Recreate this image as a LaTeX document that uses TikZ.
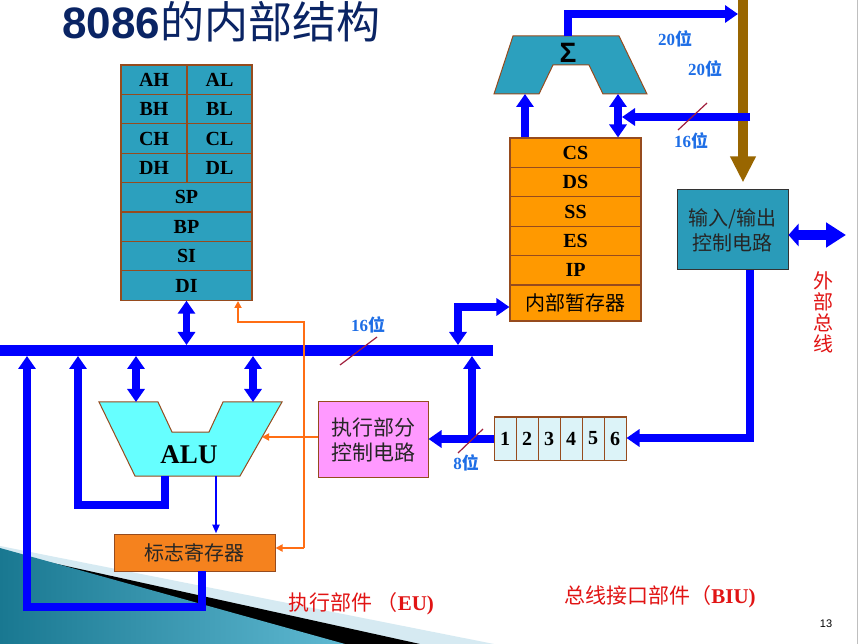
\documentclass[tikz,border=0pt]{standalone}
\usepackage{fontspec}
\setmainfont{Liberation Serif}
\newfontfamily\cjk{Noto Sans CJK SC}
\newfontfamily\arialf{Liberation Sans}
\usetikzlibrary{arrows.meta,calc}
\definecolor{regteal}{RGB}{44,160,190}
\definecolor{iofill}{RGB}{42,155,185}
\definecolor{brd}{RGB}{150,75,30}
\definecolor{segor}{RGB}{255,153,0}
\definecolor{flagor}{RGB}{245,130,30}
\definecolor{alucyan}{RGB}{102,255,255}
\definecolor{pinkbox}{RGB}{255,153,255}
\definecolor{qfill}{RGB}{220,243,248}
\definecolor{busblue}{RGB}{0,0,255}
\definecolor{lblblue}{RGB}{30,110,230}
\definecolor{brownbar}{RGB}{153,102,0}
\definecolor{orline}{RGB}{255,110,20}
\definecolor{slashred}{RGB}{160,30,60}
\definecolor{navy}{RGB}{10,36,100}
\definecolor{redtxt}{RGB}{225,20,20}
\definecolor{decteala}{RGB}{25,120,145}
\definecolor{dectealb}{RGB}{95,185,210}
\definecolor{declight}{RGB}{214,234,242}
\tikzset{
  bigtip/.tip={Triangle[length=13pt,width=17pt]},
  smtip/.tip={Triangle[length=7pt,width=7pt]},
}
\begin{document}
\begin{tikzpicture}[x=1pt,y=-1pt,
  reg/.style={draw=brd,line width=1.1pt,fill=regteal,minimum height=29.4pt,inner sep=0pt,font=\fontsize{20}{20}\selectfont\bfseries},
  seg/.style={reg,fill=segor},
  qcell/.style={draw=brd,line width=1pt,fill=qfill,minimum width=22pt,minimum height=43pt,inner sep=0pt,font=\fontsize{20}{20}\selectfont\bfseries},
  cjkbox/.style={draw=brd,line width=1pt,inner sep=0pt,align=center,text=black!85,font=\cjk\fontsize{20}{25}\selectfont},
  bus/.style={draw=busblue,line width=7.5pt},
  thinline/.style={draw=busblue,line width=2.2pt},
  ctl/.style={draw=orline,line width=2pt},
  slash/.style={draw=slashred,line width=1.2pt},
  bitlbl/.style={text=lblblue,inner sep=0pt,font=\fontsize{17}{17}\selectfont\bfseries},
  redlbl/.style={text=redtxt,inner sep=0pt},
]
\useasboundingbox (0,0) rectangle (868,644);
\fill[white] (0,0) rectangle (868,644);

% decoration
\fill[declight] (0,546) -- (494,644) -- (0,644) -- cycle;
\fill[black] (30,558) -- (420,644) -- (0,644) -- (0,560) -- cycle;
\shade[left color=decteala,right color=dectealb] (0,548) -- (345,644) -- (0,644) -- cycle;
\draw[gray!50,line width=0.8pt] (857,0) -- (857,644);

% title
\node[anchor=base west,inner sep=0pt,text=navy] (title) at (62,39) {\arialf\bfseries\fontsize{44}{44}\selectfont 8086{\cjk\mdseries 的内部结构}};

% general registers
\node[reg,minimum width=66pt] (ah) at (154,79.7) {AH};
\node[reg,minimum width=65pt] (al) at (219.5,79.7) {AL};
\node[reg,minimum width=66pt] (bh) at (154,109.1) {BH};
\node[reg,minimum width=65pt] (bl) at (219.5,109.1) {BL};
\node[reg,minimum width=66pt] (ch) at (154,138.5) {CH};
\node[reg,minimum width=65pt] (cl) at (219.5,138.5) {CL};
\node[reg,minimum width=66pt] (dh) at (154,167.9) {DH};
\node[reg,minimum width=65pt] (dl) at (219.5,167.9) {DL};
\node[reg,minimum width=131pt] (sp) at (186.5,197.3) {SP};
\node[reg,minimum width=131pt] (bp) at (186.5,226.7) {BP};
\node[reg,minimum width=131pt] (si) at (186.5,256.1) {SI};
\node[reg,minimum width=131pt] (di) at (186.5,285.5) {DI};

% segment registers
\node[seg,minimum width=131pt] (cs) at (575.5,152.7) {CS};
\node[seg,minimum width=131pt] (ds) at (575.5,182.1) {DS};
\node[seg,minimum width=131pt] (ss) at (575.5,211.5) {SS};
\node[seg,minimum width=131pt] (es) at (575.5,240.9) {ES};
\node[seg,minimum width=131pt] (ip) at (575.5,270.3) {IP};
\node[seg,minimum width=131pt,minimum height=36pt,font=\cjk\fontsize{20}{20}\selectfont] (tmp) at (575.5,303) {内部暂存器};

% adder
\filldraw[fill=regteal,draw=brd,line width=1pt] (513,36) -- (619,36) -- (647,94) -- (603,94) -- (589,65) -- (553,65) -- (539,94) -- (494,94) -- cycle;
\node[inner sep=0pt,font=\arialf\bfseries\fontsize{28}{28}\selectfont] (sigma) at (568,53) {Σ};
\coordinate (addTop) at (568,36);
\coordinate (addInL) at (525,94);
\coordinate (addInR) at (618,94);

% external address bus bar
\coordinate (barTop) at (743,0);
\node[cjkbox,draw=black!80,fill=iofill,minimum width=111pt,minimum height=80pt] (io) at (732.5,230) {输入/输出\\控制电路};
\draw[brownbar,line width=10pt,-{Triangle[length=26pt,width=24pt]}] (barTop) -- ($(barTop |- io.north)+(0,-7)$);

\draw[bus,-{bigtip}] (addTop) -- (568,14) -- (738,14);
\draw[bus,-{bigtip}] (cs.north -| addInL) -- (addInL);
\draw[bus,{bigtip}-{bigtip}] (cs.north -| addInR) -- (addInR);
\coordinate (seg16) at (750,117);
\draw[bus,-{bigtip}] (seg16) -- (622,117);

% external bus
\coordinate (extbus) at (846,235);
\draw[draw=busblue,line width=10pt,{Triangle[length=10pt,width=22pt]}-{Triangle[length=20pt,width=24pt]}] (io.east |- extbus) -- (extbus);
\node[redlbl,font=\cjk\fontsize{20}{21}\selectfont,align=center] (ext) at (823,312) {外\\部\\总\\线};

% queue
\node[qcell] (q1) at (505,438.5) {1};
\node[qcell] (q2) at (527,438.5) {2};
\node[qcell] (q3) at (549,438.5) {3};
\node[qcell] (q4) at (571,438.5) {4};
\node[qcell] (q5) at (593,438.5) {5};
\node[qcell] (q6) at (615,438.5) {6};
\coordinate (qbend) at (750,438);
\draw[bus,line width=8.5pt,-{bigtip}] (io.south -| qbend) -- (qbend) -- (q6.east |- qbend);

% EU control box
\node[cjkbox,fill=pinkbox,minimum width=110pt,minimum height=75pt,font=\cjk\fontsize{21}{25}\selectfont] (exec) at (373,439.5) {执行部分\\控制电路};

% internal bus
\coordinate (busL) at (0,350.5);
\coordinate (busR) at (493,350.5);
\coordinate (busTop) at (0,345);
\coordinate (busBot) at (0,356);
\draw[draw=busblue,line width=11pt] (busL) -- (busR);

\coordinate (qj) at (472,439);
\draw[bus,-{bigtip}] (q1.west |- qj) -- (exec.east |- qj);
\draw[bus,-{bigtip}] (qj) -- (qj |- busBot);

\coordinate (tmpc) at (458,307);
\draw[bus,{bigtip}-{bigtip}] (tmpc |- busTop) -- (tmpc) -- (tmp.west |- tmpc);

\draw[bus,{bigtip}-{bigtip}] (di.south) -- (di.south |- busTop);

% ALU
\filldraw[fill=alucyan,draw=brd,line width=1pt] (99,402) -- (158,402) -- (172,432) -- (209,432) -- (223,402) -- (282,402) -- (240,476) -- (135,476) -- cycle;
\node[inner sep=0pt,font=\fontsize{27}{27}\selectfont\bfseries] (alu) at (189,455) {ALU};
\coordinate (aluInL) at (136,402);
\coordinate (aluInR) at (253,402);
\coordinate (aluOutA) at (165,476);
\coordinate (aluOutB) at (216,476);
\draw[bus,{bigtip}-{bigtip}] (aluInL |- busBot) -- (aluInL);
\draw[bus,{bigtip}-{bigtip}] (aluInR |- busBot) -- (aluInR);

% flags
\node[cjkbox,fill=flagor,minimum width=161pt,minimum height=37pt] (flags) at (194.5,552.5) {标志寄存器};
\coordinate (flOut) at (202,571);

\draw[bus,-{bigtip}] (aluOutA) -- (165,505) -- (78,505) -- (78,356);
\draw[bus,-{bigtip}] (flOut) -- (202,607) -- (27,607) -- (27,356);
\draw[thinline,-{Triangle[length=9pt,width=7pt]}] (aluOutB) -- (aluOutB |- flags.north);

% control lines
\coordinate (oTop) at (304,322);
\coordinate (oMid) at (304,437);
\coordinate (oBot) at (304,548);
\coordinate (diIn) at (238,301);
\draw[ctl,-{smtip}] (exec.west |- oMid) -- (262,437);
\draw[ctl,-{smtip}] (oBot) -- (flags.east |- oBot);
\draw[ctl,-{smtip}] (oBot) -- (oTop) -- (diIn |- oTop) -- (diIn);

% width labels
\node[bitlbl] (l20a) at (675,39) {20{\cjk 位}};
\node[bitlbl] (l20b) at (705,69) {20{\cjk 位}};
\node[bitlbl] (l16a) at (691,141) {16{\cjk 位}};
\node[bitlbl] (l16b) at (368,325) {16{\cjk 位}};
\node[bitlbl] (l8) at (466,463) {8{\cjk 位}};
\draw[slash] (678,130) -- (707,103);
\draw[slash] (340,365) -- (377,337);
\draw[slash] (458,453) -- (483,429);

% bottom labels
\node[redlbl,font=\fontsize{21}{21}\selectfont] (eu) at (361,604) {{\cjk 执行部件\ （}\textbf{EU)}};
\node[redlbl,font=\fontsize{21}{21}\selectfont] (biu) at (660,597) {{\cjk 总线接口部件（}\textbf{BIU)}};
\node[inner sep=0pt,font=\arialf\fontsize{11}{11}\selectfont] (pg) at (826,624) {13};
\end{tikzpicture}
\end{document}
